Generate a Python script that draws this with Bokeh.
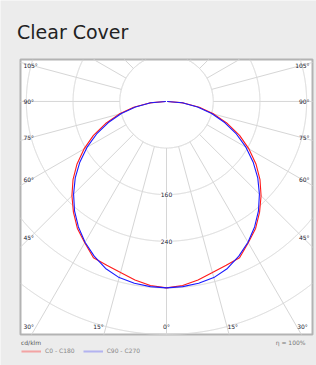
import numpy as np
from bokeh.plotting import figure
from bokeh.models import Range1d, Legend, LegendItem, Label, ColumnDataSource
from bokeh.core.properties import value
from bokeh.embed import file_html
from bokeh.resources import INLINE

# ---------------- data ----------------
TITLE = "Clear Cover"
UNIT = "cd/klm"
EFFICIENCY = "\u03b7 = 100%"
SERIES_NAMES = ["C0 - C180", "C90 - C270"]
GAMMA = [0, 5, 10, 15, 20, 25, 30, 35, 40, 45, 50, 55, 60, 65, 70, 75, 80, 85, 90]
C0_C180 = [320, 317, 311, 304, 299, 296, 280, 266, 248, 229, 209, 187, 163, 138, 111, 84, 57, 29, 2]
C90_C270 = [320, 319, 317, 313, 305, 293, 279, 263, 245, 225, 204, 181, 157, 132, 106, 80, 54, 27, 1]
RING_VALUES = [80, 160, 240, 320, 400]
RING_LABELS = [160, 240]
RADIAL_ANGLES = list(range(-180, 180, 15))
SIDE_LABEL_ANGLES = [-105, -90, -75, -60, -45, 45, 60, 75, 90, 105]
BOTTOM_LABEL_ANGLES = [-30, -15, 0, 15, 30]

# ---------------- layout / style ----------------
W, H = 316, 365
# diagram box in cd/klm units (left, right, bottom, top) and its pixel margins
BL, BR, BB, BT = -250, 250, -400, 72
M_LEFT, M_RIGHT, M_TOP, M_BOTTOM = 20, 4, 59, 31
KX = (W - M_LEFT - M_RIGHT) / (BR - BL)
KY = (H - M_TOP - M_BOTTOM) / (BT - BB)
X0, X1 = BL - M_LEFT / KX, BR + M_RIGHT / KX
Y0, Y1 = BB - M_BOTTOM / KY, BT + M_TOP / KY

BG = "#ececec"
GRID = "#d6d6d6"
LABEL_COLOR = "#222230"
FONT = value("DejaVu Sans")

p = figure(width=W, height=H, x_range=Range1d(X0, X1), y_range=Range1d(Y0, Y1),
           output_backend="svg", toolbar_location=None,
           x_axis_location=None, y_axis_location=None,
           min_border=0, background_fill_color=BG, border_fill_color=BG,
           outline_line_color=None)
p.grid.visible = False

# diagram box
p.quad(left=[BL], right=[BR], bottom=[BB], top=[BT], fill_color="white",
       line_color="#b3b3b3", line_width=2)


def inside(x, y):
    return (x >= BL) & (x <= BR) & (y >= BB) & (y <= BT)


# rings (clipped to the box)
th = np.linspace(0, 2 * np.pi, 2881)
rxs, rys = [], []
for R in RING_VALUES:
    x = R * np.cos(th)
    y = R * np.sin(th)
    m = ~inside(x, y)
    x = x.copy(); y = y.copy()
    x[m] = np.nan; y[m] = np.nan
    rxs.append(x); rys.append(y)
p.multi_line(xs=rxs, ys=rys, line_color=GRID, line_width=1)

# radial lines from the inner ring out to the box edge
r_in = RING_VALUES[0]
lxs, lys = [], []
for a in RADIAL_ANGLES:
    t = np.radians(a)
    dx, dy = np.sin(t), -np.cos(t)
    lims = []
    if dx > 1e-9: lims.append(BR / dx)
    if dx < -1e-9: lims.append(BL / dx)
    if dy > 1e-9: lims.append(BT / dy)
    if dy < -1e-9: lims.append(BB / dy)
    r_max = min(lims)
    if r_max > r_in:
        lxs.append([r_in * dx, r_max * dx])
        lys.append([r_in * dy, r_max * dy])
p.multi_line(xs=lxs, ys=lys, line_color=GRID, line_width=1)


# curves
def polar_curve(vals):
    g = np.array(GAMMA, dtype=float)
    v = np.array(vals, dtype=float)
    ang = np.concatenate([-g[::-1], g[1:]])
    val = np.concatenate([v[::-1], v[1:]])
    t = np.radians(ang)
    return val * np.sin(t), -val * np.cos(t)


x1, y1 = polar_curve(C0_C180)
x2, y2 = polar_curve(C90_C270)
p.line(x1, y1, line_color="#ff1a1a", line_width=1.1)
p.line(x2, y2, line_color="#1a1aff", line_width=1.1)

# legend proxies (pale swatches as in the reference)
leg_red = p.line(x=[np.nan], y=[np.nan], line_color="#f3a3a3", line_width=2)
leg_blue = p.line(x=[np.nan], y=[np.nan], line_color="#b3b3f0", line_width=2)

# angle labels on the sides
sx, sy, st, sa = [], [], [], []
probe = BR - 17
for a in SIDE_LABEL_ANGLES:
    t = np.radians(a)
    s, c = np.sin(t), np.cos(t)
    sx.append(np.sign(s) * (BR - 5))
    sy.append(-probe * c / abs(s))
    st.append(f"{abs(a)}\u00b0")
    sa.append("left" if s < 0 else "right")
# angle labels along the bottom
by = BB + 14
for a in BOTTOM_LABEL_ANGLES:
    t = np.radians(a)
    x = -by * np.tan(t)
    if a < 0:
        sx.append(x - 4); sa.append("right")
    elif a > 0:
        sx.append(x + 1); sa.append("left")
    else:
        sx.append(x); sa.append("center")
    sy.append(by)
    st.append(f"{abs(a)}\u00b0")

p.text(x="x", y="y", text="t", text_align="a",
       source=ColumnDataSource(dict(x=sx, y=sy, t=st, a=sa)),
       text_font=FONT, text_font_size="6px", text_color=LABEL_COLOR, text_baseline="middle")

# ring labels
p.text(x=[0] * len(RING_LABELS), y=[-v for v in RING_LABELS], text=[str(v) for v in RING_LABELS],
       text_font=FONT, text_font_size="6px", text_color=LABEL_COLOR,
       text_align="center", text_baseline="middle",
       background_fill_color="white")

# title
p.add_layout(Label(x=BL, y=BT, x_offset=-3.5, y_offset=28, text=TITLE,
                   text_font="DejaVu Sans", text_font_size="19px", text_color="#222222",
                   text_align="left", text_baseline="alphabetic"))

# legend under the box
legend = Legend(items=[LegendItem(label=SERIES_NAMES[0], renderers=[leg_red]),
                       LegendItem(label=SERIES_NAMES[1], renderers=[leg_blue])],
                orientation="horizontal", location=(21, 11),
                title=UNIT, title_text_font_size="6px", title_text_font_style="normal",
                title_text_color="#555555", title_text_font="DejaVu Sans", title_standoff=1,
                label_text_font_size="6px", label_text_color="#888888", label_text_font="DejaVu Sans",
                glyph_width=20, glyph_height=6, label_height=6, label_standoff=4, spacing=8,
                padding=2, margin=0, border_line_color=None, background_fill_alpha=0)
p.add_layout(legend)

p.add_layout(Label(x=BR, y=BB, x_offset=-7, y_offset=-8, text=EFFICIENCY,
                   text_font="DejaVu Sans", text_font_size="6px", text_color="#777777",
                   text_align="right", text_baseline="middle"))

open("out.html", "w").write(file_html(p, INLINE))
